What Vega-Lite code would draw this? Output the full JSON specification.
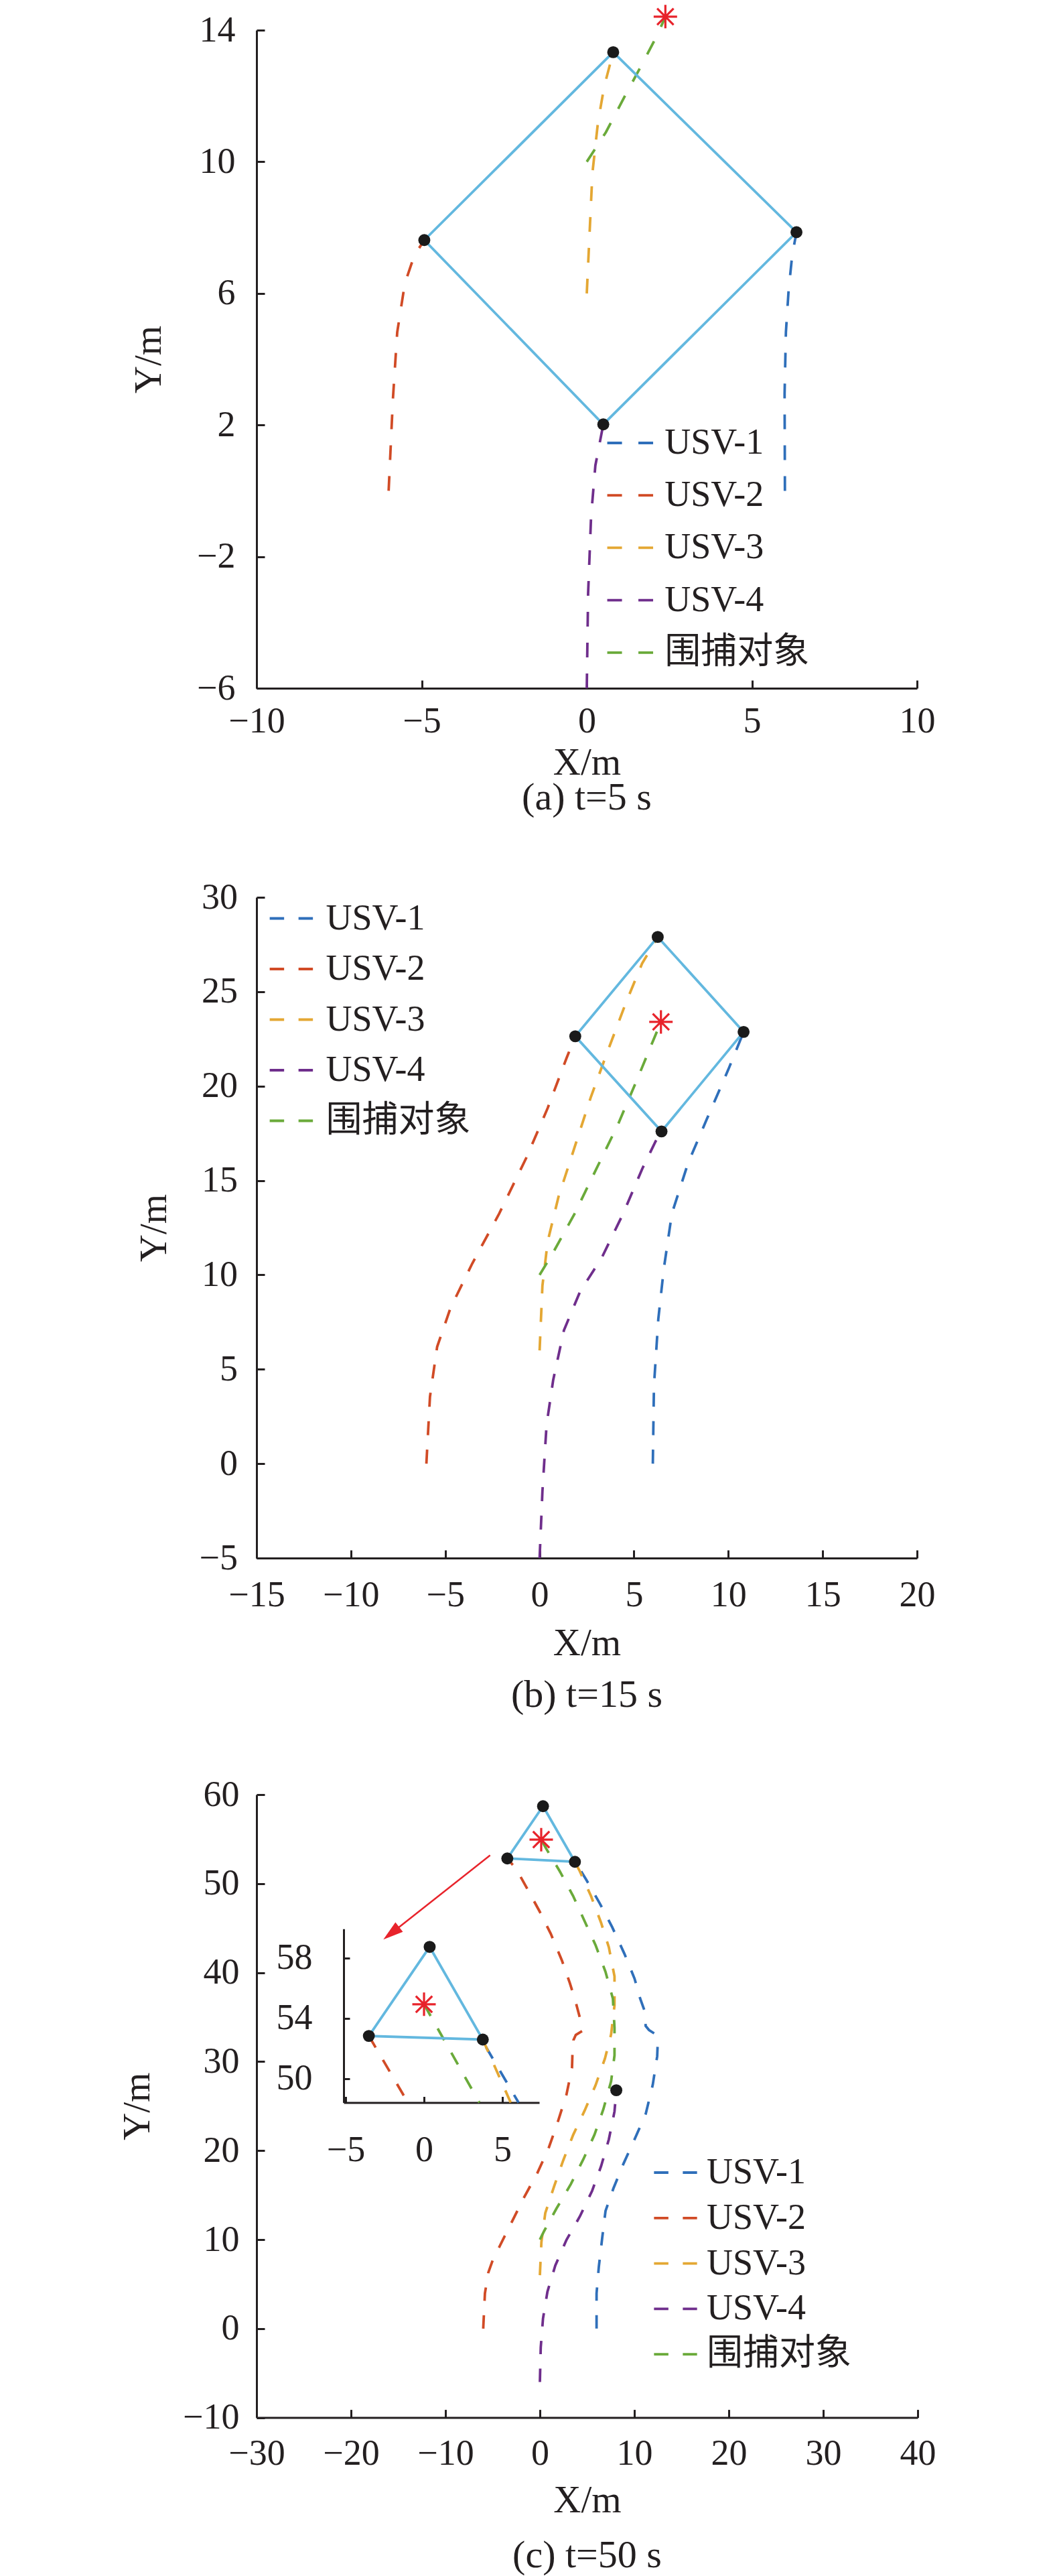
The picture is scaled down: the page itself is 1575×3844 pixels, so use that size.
{
"$schema":"https://vega.github.io/schema/vega-lite/v6.json",
"padding":{"left":176,"top":0,"right":10,"bottom":0},
"background":"#ffffff",
"spacing":91,
"config":{
 "view":{"stroke":null},
 "font":"Liberation Serif",
 "axis":{"domainColor":"#231f20","domainWidth":3,"tickColor":"#231f20","tickWidth":3,"tickSize":-12,"grid":false,"labelFont":"Liberation Serif","labelFontSize":54,"labelColor":"#231f20","titleFont":"Liberation Serif","titleFontSize":57,"titleFontWeight":"normal","titleColor":"#231f20","labelFlush":false,"labelOverlap":false},
 "legend":{"padding":0,"offset":0},
 "title":{"font":"Liberation Serif","fontSize":58,"fontWeight":"normal","color":"#231f20"}
},
"datasets":{
 "traj":[
  {"p":"a","s":"USV-1","i":0,"x":6,"y":0},{"p":"a","s":"USV-1","i":1,"x":5.99,"y":2.95},{"p":"a","s":"USV-1","i":2,"x":6.03,"y":4.82},{"p":"a","s":"USV-1","i":3,"x":6.11,"y":6.07},{"p":"a","s":"USV-1","i":4,"x":6.22,"y":7.16},{"p":"a","s":"USV-1","i":5,"x":6.35,"y":7.86},
  {"p":"a","s":"USV-2","i":0,"x":-6,"y":0},{"p":"a","s":"USV-2","i":1,"x":-5.87,"y":2.8},{"p":"a","s":"USV-2","i":2,"x":-5.74,"y":4.82},{"p":"a","s":"USV-2","i":3,"x":-5.51,"y":6.3},{"p":"a","s":"USV-2","i":4,"x":-5.22,"y":7.16},{"p":"a","s":"USV-2","i":5,"x":-4.92,"y":7.62},
  {"p":"a","s":"USV-3","i":0,"x":0,"y":6},{"p":"a","s":"USV-3","i":1,"x":0.09,"y":7.94},{"p":"a","s":"USV-3","i":2,"x":0.17,"y":9.65},{"p":"a","s":"USV-3","i":3,"x":0.34,"y":11.21},{"p":"a","s":"USV-3","i":4,"x":0.53,"y":12.3},{"p":"a","s":"USV-3","i":5,"x":0.8,"y":13.33},
  {"p":"a","s":"USV-4","i":0,"x":0,"y":-6},{"p":"a","s":"USV-4","i":1,"x":0.04,"y":-3.13},{"p":"a","s":"USV-4","i":2,"x":0.13,"y":-0.79},{"p":"a","s":"USV-4","i":3,"x":0.26,"y":0.77},{"p":"a","s":"USV-4","i":4,"x":0.5,"y":2.02},
  {"p":"a","s":"围捕对象","i":0,"x":0,"y":10},{"p":"a","s":"围捕对象","i":1,"x":0.58,"y":10.9},{"p":"a","s":"围捕对象","i":2,"x":1.15,"y":11.99},{"p":"a","s":"围捕对象","i":3,"x":1.65,"y":12.92},{"p":"a","s":"围捕对象","i":4,"x":2.14,"y":13.86},{"p":"a","s":"围捕对象","i":5,"x":2.38,"y":14.41},

  {"p":"b","s":"USV-1","i":0,"x":6,"y":0},{"p":"b","s":"USV-1","i":1,"x":6.06,"y":4.13},{"p":"b","s":"USV-1","i":2,"x":6.29,"y":7.66},{"p":"b","s":"USV-1","i":3,"x":6.58,"y":10.31},{"p":"b","s":"USV-1","i":4,"x":7.01,"y":13.25},{"p":"b","s":"USV-1","i":5,"x":7.86,"y":15.9},{"p":"b","s":"USV-1","i":6,"x":8.86,"y":18.25},{"p":"b","s":"USV-1","i":7,"x":10.01,"y":20.9},{"p":"b","s":"USV-1","i":8,"x":10.81,"y":22.87},
  {"p":"b","s":"USV-2","i":0,"x":-6,"y":0},{"p":"b","s":"USV-2","i":1,"x":-5.81,"y":3.54},{"p":"b","s":"USV-2","i":2,"x":-5.43,"y":6.19},{"p":"b","s":"USV-2","i":3,"x":-4.72,"y":8.25},{"p":"b","s":"USV-2","i":4,"x":-3.57,"y":10.6},{"p":"b","s":"USV-2","i":5,"x":-2.14,"y":13.25},{"p":"b","s":"USV-2","i":6,"x":-0.71,"y":16.19},{"p":"b","s":"USV-2","i":7,"x":0.43,"y":18.84},{"p":"b","s":"USV-2","i":8,"x":1.43,"y":21.49},{"p":"b","s":"USV-2","i":9,"x":1.89,"y":22.64},
  {"p":"b","s":"USV-3","i":0,"x":0,"y":6},{"p":"b","s":"USV-3","i":1,"x":0.15,"y":9.43},{"p":"b","s":"USV-3","i":2,"x":0.43,"y":11.78},{"p":"b","s":"USV-3","i":3,"x":1.0,"y":14.13},{"p":"b","s":"USV-3","i":4,"x":1.86,"y":16.78},{"p":"b","s":"USV-3","i":5,"x":2.72,"y":19.43},{"p":"b","s":"USV-3","i":6,"x":3.58,"y":21.78},{"p":"b","s":"USV-3","i":7,"x":4.58,"y":24.43},{"p":"b","s":"USV-3","i":8,"x":5.43,"y":26.49},{"p":"b","s":"USV-3","i":9,"x":6.26,"y":27.9},
  {"p":"b","s":"USV-4","i":0,"x":0,"y":-5},{"p":"b","s":"USV-4","i":1,"x":0.15,"y":-1.46},{"p":"b","s":"USV-4","i":2,"x":0.37,"y":2.07},{"p":"b","s":"USV-4","i":3,"x":0.72,"y":4.43},{"p":"b","s":"USV-4","i":4,"x":1.29,"y":7.07},{"p":"b","s":"USV-4","i":5,"x":2.15,"y":9.13},{"p":"b","s":"USV-4","i":6,"x":3.29,"y":10.9},{"p":"b","s":"USV-4","i":7,"x":4.43,"y":13.25},{"p":"b","s":"USV-4","i":8,"x":5.43,"y":15.6},{"p":"b","s":"USV-4","i":9,"x":6.15,"y":17.08},{"p":"b","s":"USV-4","i":10,"x":6.46,"y":17.6},
  {"p":"b","s":"围捕对象","i":0,"x":0,"y":10},{"p":"b","s":"围捕对象","i":1,"x":0.72,"y":11.19},{"p":"b","s":"围捕对象","i":2,"x":1.86,"y":13.25},{"p":"b","s":"围捕对象","i":3,"x":3.0,"y":15.6},{"p":"b","s":"围捕对象","i":4,"x":4.15,"y":17.96},{"p":"b","s":"围捕对象","i":5,"x":5.15,"y":20.31},{"p":"b","s":"围捕对象","i":6,"x":6.0,"y":22.37},{"p":"b","s":"围捕对象","i":7,"x":6.43,"y":23.4},

  {"p":"c","s":"USV-1","i":0,"x":6,"y":0},{"p":"c","s":"USV-1","i":1,"x":6.0,"y":3.96},{"p":"c","s":"USV-1","i":2,"x":6.24,"y":6.95},{"p":"c","s":"USV-1","i":3,"x":6.6,"y":10.21},{"p":"c","s":"USV-1","i":4,"x":6.95,"y":13.22},{"p":"c","s":"USV-1","i":5,"x":7.78,"y":15.74},{"p":"c","s":"USV-1","i":6,"x":8.84,"y":18.5},{"p":"c","s":"USV-1","i":7,"x":10.02,"y":21.26},{"p":"c","s":"USV-1","i":8,"x":11.21,"y":24.14},{"p":"c","s":"USV-1","i":9,"x":11.95,"y":27.4},{"p":"c","s":"USV-1","i":10,"x":12.42,"y":30.6},{"p":"c","s":"USV-1","i":11,"x":12.48,"y":32.2},{"p":"c","s":"USV-1","i":12,"x":12.2,"y":33.1},{"p":"c","s":"USV-1","i":13,"x":11.55,"y":33.55},{"p":"c","s":"USV-1","i":14,"x":11.2,"y":34.0},{"p":"c","s":"USV-1","i":15,"x":11.09,"y":35.69},{"p":"c","s":"USV-1","i":16,"x":10.62,"y":37.07},{"p":"c","s":"USV-1","i":17,"x":10.02,"y":39.33},{"p":"c","s":"USV-1","i":18,"x":8.96,"y":42.09},{"p":"c","s":"USV-1","i":19,"x":7.66,"y":45.1},{"p":"c","s":"USV-1","i":20,"x":6.36,"y":47.74},{"p":"c","s":"USV-1","i":21,"x":4.94,"y":50.38},{"p":"c","s":"USV-1","i":22,"x":3.9,"y":52.2},
  {"p":"c","s":"USV-2","i":0,"x":-6,"y":0},{"p":"c","s":"USV-2","i":1,"x":-5.82,"y":3.96},{"p":"c","s":"USV-2","i":2,"x":-5.46,"y":6.3},{"p":"c","s":"USV-2","i":3,"x":-4.99,"y":7.7},{"p":"c","s":"USV-2","i":4,"x":-4.28,"y":9.21},{"p":"c","s":"USV-2","i":5,"x":-2.98,"y":11.97},{"p":"c","s":"USV-2","i":6,"x":-1.68,"y":14.73},{"p":"c","s":"USV-2","i":7,"x":-0.26,"y":17.5},{"p":"c","s":"USV-2","i":8,"x":0.92,"y":20.26},{"p":"c","s":"USV-2","i":9,"x":1.87,"y":23.14},{"p":"c","s":"USV-2","i":10,"x":2.81,"y":26.28},{"p":"c","s":"USV-2","i":11,"x":3.4,"y":29.3},{"p":"c","s":"USV-2","i":12,"x":3.45,"y":31.0},{"p":"c","s":"USV-2","i":13,"x":3.55,"y":32.4},{"p":"c","s":"USV-2","i":14,"x":3.8,"y":33.0},{"p":"c","s":"USV-2","i":15,"x":4.47,"y":33.43},{"p":"c","s":"USV-2","i":16,"x":4.23,"y":34.94},{"p":"c","s":"USV-2","i":17,"x":3.76,"y":36.82},{"p":"c","s":"USV-2","i":18,"x":3.17,"y":38.83},{"p":"c","s":"USV-2","i":19,"x":2.34,"y":41.34},{"p":"c","s":"USV-2","i":20,"x":1.16,"y":44.35},{"p":"c","s":"USV-2","i":21,"x":-0.02,"y":46.86},{"p":"c","s":"USV-2","i":22,"x":-1.44,"y":49.62},{"p":"c","s":"USV-2","i":23,"x":-2.5,"y":51.63},{"p":"c","s":"USV-2","i":24,"x":-3.45,"y":52.83},
  {"p":"c","s":"USV-3","i":0,"x":0,"y":6},{"p":"c","s":"USV-3","i":1,"x":0.16,"y":9.72},{"p":"c","s":"USV-3","i":2,"x":0.57,"y":12.98},{"p":"c","s":"USV-3","i":3,"x":1.51,"y":15.99},{"p":"c","s":"USV-3","i":4,"x":2.46,"y":18.87},{"p":"c","s":"USV-3","i":5,"x":3.52,"y":21.76},{"p":"c","s":"USV-3","i":6,"x":4.75,"y":24.52},{"p":"c","s":"USV-3","i":7,"x":5.89,"y":27.33},{"p":"c","s":"USV-3","i":8,"x":6.89,"y":30.35},{"p":"c","s":"USV-3","i":9,"x":7.54,"y":33.06},{"p":"c","s":"USV-3","i":10,"x":7.9,"y":36.32},{"p":"c","s":"USV-3","i":11,"x":7.9,"y":39.58},{"p":"c","s":"USV-3","i":12,"x":7.3,"y":42.85},{"p":"c","s":"USV-3","i":13,"x":6.48,"y":45.6},{"p":"c","s":"USV-3","i":14,"x":5.41,"y":48.61},{"p":"c","s":"USV-3","i":15,"x":4.23,"y":51.38},{"p":"c","s":"USV-3","i":16,"x":3.71,"y":52.45},
  {"p":"c","s":"USV-4","i":0,"x":0,"y":-6},{"p":"c","s":"USV-4","i":1,"x":0.09,"y":-2.12},{"p":"c","s":"USV-4","i":2,"x":0.33,"y":1.14},{"p":"c","s":"USV-4","i":3,"x":0.8,"y":4.15},{"p":"c","s":"USV-4","i":4,"x":1.63,"y":7.08},{"p":"c","s":"USV-4","i":5,"x":2.81,"y":9.96},{"p":"c","s":"USV-4","i":6,"x":4.23,"y":12.6},{"p":"c","s":"USV-4","i":7,"x":5.53,"y":15.48},{"p":"c","s":"USV-4","i":8,"x":6.48,"y":18.25},{"p":"c","s":"USV-4","i":9,"x":7.3,"y":21.26},{"p":"c","s":"USV-4","i":10,"x":7.9,"y":24.4},{"p":"c","s":"USV-4","i":11,"x":8.09,"y":26.78},
  {"p":"c","s":"围捕对象","i":0,"x":0,"y":10},{"p":"c","s":"围捕对象","i":1,"x":0.45,"y":10.96},{"p":"c","s":"围捕对象","i":2,"x":1.75,"y":13.48},{"p":"c","s":"围捕对象","i":3,"x":3.28,"y":16.24},{"p":"c","s":"围捕对象","i":4,"x":4.59,"y":19.0},{"p":"c","s":"围捕对象","i":5,"x":5.77,"y":21.76},{"p":"c","s":"围捕对象","i":6,"x":6.72,"y":24.65},{"p":"c","s":"围捕对象","i":7,"x":7.54,"y":27.79},{"p":"c","s":"围捕对象","i":8,"x":7.9,"y":30.7},{"p":"c","s":"围捕对象","i":9,"x":7.9,"y":33.81},{"p":"c","s":"围捕对象","i":10,"x":7.73,"y":37.07},{"p":"c","s":"围捕对象","i":11,"x":6.95,"y":40.08},{"p":"c","s":"围捕对象","i":12,"x":5.89,"y":43.1},{"p":"c","s":"围捕对象","i":13,"x":4.7,"y":45.86},{"p":"c","s":"围捕对象","i":14,"x":3.52,"y":48.61},{"p":"c","s":"围捕对象","i":15,"x":2.11,"y":51.38},{"p":"c","s":"围捕对象","i":16,"x":0.69,"y":53.89},{"p":"c","s":"围捕对象","i":17,"x":0.14,"y":54.94},

  {"p":"ci","s":"USV-1","i":0,"x":3.95,"y":52.1},{"p":"ci","s":"USV-1","i":1,"x":6.03,"y":48.41},
  {"p":"ci","s":"USV-2","i":0,"x":-3.52,"y":52.83},{"p":"ci","s":"USV-2","i":1,"x":-1.03,"y":48.41},
  {"p":"ci","s":"USV-3","i":0,"x":3.75,"y":52.59},{"p":"ci","s":"USV-3","i":1,"x":5.53,"y":48.41},
  {"p":"ci","s":"围捕对象","i":0,"x":0,"y":54.93},{"p":"ci","s":"围捕对象","i":1,"x":3.53,"y":48.41}
 ],
 "form":[
  {"p":"a","i":0,"x":0.8,"y":13.33},{"p":"a","i":1,"x":6.35,"y":7.86},{"p":"a","i":2,"x":0.5,"y":2.02},{"p":"a","i":3,"x":-4.92,"y":7.62},{"p":"a","i":4,"x":0.8,"y":13.33},
  {"p":"b","i":0,"x":6.26,"y":27.9},{"p":"b","i":1,"x":10.81,"y":22.87},{"p":"b","i":2,"x":6.46,"y":17.6},{"p":"b","i":3,"x":1.89,"y":22.64},{"p":"b","i":4,"x":6.26,"y":27.9},
  {"p":"c","i":0,"x":0.33,"y":58.7},{"p":"c","i":1,"x":3.71,"y":52.45},{"p":"c","i":2,"x":-3.45,"y":52.83},{"p":"c","i":3,"x":0.33,"y":58.7},
  {"p":"ci","i":0,"x":0.36,"y":58.74},{"p":"ci","i":1,"x":3.75,"y":52.59},{"p":"ci","i":2,"x":-3.52,"y":52.83},{"p":"ci","i":3,"x":0.36,"y":58.74}
 ],
 "dots":[
  {"p":"a","x":0.8,"y":13.33},{"p":"a","x":6.35,"y":7.86},{"p":"a","x":0.5,"y":2.02},{"p":"a","x":-4.92,"y":7.62},
  {"p":"b","x":6.26,"y":27.9},{"p":"b","x":10.81,"y":22.87},{"p":"b","x":6.46,"y":17.6},{"p":"b","x":1.89,"y":22.64},
  {"p":"c","x":0.33,"y":58.7},{"p":"c","x":3.71,"y":52.45},{"p":"c","x":-3.45,"y":52.83},{"p":"c","x":8.09,"y":26.78},
  {"p":"ci","x":0.36,"y":58.74},{"p":"ci","x":3.75,"y":52.59},{"p":"ci","x":-3.52,"y":52.83}
 ],
 "star":[
  {"p":"a","x":2.38,"y":14.41},{"p":"b","x":6.43,"y":23.4},{"p":"c","x":0.14,"y":54.94},{"p":"ci","x":0,"y":54.93}
 ],
 "arrow":[{"i":0,"x":-5.27,"y":53.18},{"i":1,"x":-15.74,"y":44.42}],
 "head":[{"x":-15.74,"y":44.42}]
},
"resolve":{"scale":{"x":"independent","y":"independent","color":"independent"},"legend":{"color":"independent"}},
"vconcat":[
 {
  "width":986,"height":982,
  "title":{"text":"(a) t=5 s","orient":"bottom","frame":"group","anchor":"middle","offset":24.5,"baseline":"middle"},
  "encoding":{
   "x":{"field":"x","type":"quantitative","scale":{"domain":[-10,10],"nice":false,"zero":false},"axis":{"values":[-10,-5,0,5,10],"title":"X/m","titleY":111.9,"titleBaseline":"middle","labelPadding":34.5}},
   "y":{"field":"y","type":"quantitative","scale":{"domain":[-6,14],"nice":false,"zero":false},"axis":{"values":[-6,-2,2,6,10,14],"title":"Y/m","titleX":-160.5,"titleBaseline":"middle","labelPadding":44}}
  },
  "layer":[
   {"data":{"name":"traj"},"transform":[{"filter":"datum.p==='a'"}],
    "mark":{"type":"line","strokeDash":[22,24],"strokeWidth":3.8,"clip":false},
    "encoding":{"color":{"field":"s","type":"nominal","scale":{"domain":["USV-1","USV-2","USV-3","USV-4","围捕对象"],"range":["#2f6fba","#d14b26","#e4a733","#6f2e8c","#6aaa3a"]},
      "legend":{"orient":"none","legendX":521.3,"legendY":579.5,"title":null,"symbolType":"stroke","symbolSize":4692,"symbolStrokeWidth":3.8,"symbolDash":[22,24.5],"labelOffset":15,"rowPadding":14.2,"labelFontSize":54,"labelFont":"Liberation Serif, Noto Sans CJK SC","labelColor":"#231f20","labelLimit":0}},
     "order":{"field":"i","type":"quantitative"}}},
   {"data":{"name":"form"},"transform":[{"filter":"datum.p==='a'"}],"mark":{"type":"line","color":"#63b8df","strokeWidth":3.8,"clip":false},"encoding":{"order":{"field":"i","type":"quantitative"}}},
   {"data":{"name":"dots"},"transform":[{"filter":"datum.p==='a'"}],"mark":{"type":"point","filled":true,"color":"#1a1a1a","opacity":1,"size":320,"shape":"circle"}},
   {"data":{"name":"star"},"transform":[{"filter":"datum.p==='a'"}],"mark":{"type":"point","filled":false,"color":"#e8232b","opacity":1,"strokeWidth":3.2,"size":1225,"shape":"M-1,0L1,0M0,-1L0,1M-0.7,-0.7L0.7,0.7M-0.7,0.7L0.7,-0.7"}}
  ]
 },
 {
  "width":986,"height":986,
  "title":{"text":"(b) t=15 s","orient":"bottom","frame":"group","anchor":"middle","offset":49.5,"baseline":"middle"},
  "encoding":{
   "x":{"field":"x","type":"quantitative","scale":{"domain":[-15,20],"nice":false,"zero":false},"axis":{"values":[-15,-10,-5,0,5,10,15,20],"title":"X/m","titleY":127.9,"titleBaseline":"middle","labelPadding":40.5}},
   "y":{"field":"y","type":"quantitative","scale":{"domain":[-5,30],"nice":false,"zero":false},"axis":{"values":[-5,0,5,10,15,20,25,30],"title":"Y/m","titleX":-153,"titleBaseline":"middle","labelPadding":40.5}}
  },
  "layer":[
   {"data":{"name":"traj"},"transform":[{"filter":"datum.p==='b'"}],
    "mark":{"type":"line","strokeDash":[21,21.5],"strokeWidth":3.8,"clip":false},
    "encoding":{"color":{"field":"s","type":"nominal","scale":{"domain":["USV-1","USV-2","USV-3","USV-4","围捕对象"],"range":["#2f6fba","#d14b26","#e4a733","#6f2e8c","#6aaa3a"]},
      "legend":{"orient":"none","legendX":17.4,"legendY":-3,"title":null,"symbolType":"stroke","symbolSize":4160,"symbolStrokeWidth":3.8,"symbolDash":[21.5,21.5],"labelOffset":17,"rowPadding":13.5,"labelFontSize":54,"labelFont":"Liberation Serif, Noto Sans CJK SC","labelColor":"#231f20","labelLimit":0}},
     "order":{"field":"i","type":"quantitative"}}},
   {"data":{"name":"form"},"transform":[{"filter":"datum.p==='b'"}],"mark":{"type":"line","color":"#63b8df","strokeWidth":3.8,"clip":false},"encoding":{"order":{"field":"i","type":"quantitative"}}},
   {"data":{"name":"dots"},"transform":[{"filter":"datum.p==='b'"}],"mark":{"type":"point","filled":true,"color":"#1a1a1a","opacity":1,"size":320,"shape":"circle"}},
   {"data":{"name":"star"},"transform":[{"filter":"datum.p==='b'"}],"mark":{"type":"point","filled":false,"color":"#e8232b","opacity":1,"strokeWidth":3.2,"size":1225,"shape":"M-1,0L1,0M0,-1L0,1M-0.7,-0.7L0.7,0.7M-0.7,0.7L0.7,-0.7"}}
  ]
 },
 {
  "width":987,"height":929.6,
  "title":{"text":"(c) t=50 s","orient":"bottom","frame":"group","anchor":"middle","offset":54.1,"baseline":"middle"},
  "layer":[
   {
    "encoding":{
     "x":{"field":"x","type":"quantitative","scale":{"domain":[-30,40],"nice":false,"zero":false},"axis":{"values":[-30,-20,-10,0,10,20,30,40],"title":"X/m","titleY":124,"titleBaseline":"middle","labelPadding":38.5,"orient":"bottom"}},
     "y":{"field":"y","type":"quantitative","scale":{"domain":[-10,60],"nice":false,"zero":false},"axis":{"values":[-10,0,10,20,30,40,50,60],"title":"Y/m","titleX":-178,"titleBaseline":"middle","labelPadding":38,"orient":"left"}}
    },
    "layer":[
     {"data":{"name":"traj"},"transform":[{"filter":"datum.p==='c'"}],
      "mark":{"type":"line","strokeDash":[20,21.5],"strokeWidth":3.8,"clip":false},
      "encoding":{"color":{"field":"s","type":"nominal","scale":{"domain":["USV-1","USV-2","USV-3","USV-4","围捕对象"],"range":["#2f6fba","#d14b26","#e4a733","#6f2e8c","#6aaa3a"]},
        "legend":{"orient":"none","legendX":591,"legendY":529.5,"title":null,"symbolType":"stroke","symbolSize":4134,"symbolStrokeWidth":3.8,"symbolDash":[21.5,21.5],"labelOffset":12,"rowPadding":5.8,"labelFontSize":54,"labelFont":"Liberation Serif, Noto Sans CJK SC","labelColor":"#231f20","labelLimit":0}},
       "order":{"field":"i","type":"quantitative"}}},
     {"data":{"name":"form"},"transform":[{"filter":"datum.p==='c'"}],"mark":{"type":"line","color":"#63b8df","strokeWidth":3.8,"clip":false},"encoding":{"order":{"field":"i","type":"quantitative"}}},
     {"data":{"name":"arrow"},"mark":{"type":"line","color":"#e8232b","strokeWidth":2.5,"clip":false},"encoding":{"order":{"field":"i","type":"quantitative"}}},
     {"data":{"name":"head"},"mark":{"type":"point","filled":true,"color":"#e8232b","opacity":1,"size":900,"angle":232,"shape":"M0,-1L-0.6,1L0.6,1Z"}},
     {"data":{"name":"dots"},"transform":[{"filter":"datum.p==='c'"}],"mark":{"type":"point","filled":true,"color":"#1a1a1a","opacity":1,"size":320,"shape":"circle"}},
     {"data":{"name":"star"},"transform":[{"filter":"datum.p==='c'"}],"mark":{"type":"point","filled":false,"color":"#e8232b","opacity":1,"strokeWidth":3.2,"size":1225,"shape":"M-1,0L1,0M0,-1L0,1M-0.7,-0.7L0.7,0.7M-0.7,0.7L0.7,-0.7"}}
    ]
   },
   {
    "encoding":{
     "x":{"field":"x","type":"quantitative","scale":{"domain":[-5.13,7.35],"range":[130,422],"nice":false,"zero":false},"axis":{"values":[-5,0,5],"title":null,"orient":"bottom","offset":-470.1,"tickSize":-9,"labelPadding":52.8}},
     "y":{"field":"y","type":"quantitative","scale":{"domain":[48.41,59.94],"range":[459.5,200.2],"nice":false,"zero":false},"axis":{"values":[50,54,58],"title":null,"orient":"left","offset":-130,"tickSize":-9,"labelPadding":56}}
    },
    "layer":[
     {"data":{"name":"traj"},"transform":[{"filter":"datum.p==='ci'"}],
      "mark":{"type":"line","strokeDash":[20,21.5],"strokeWidth":3.8,"clip":false},
      "encoding":{"color":{"field":"s","type":"nominal","scale":{"domain":["USV-1","USV-2","USV-3","USV-4","围捕对象"],"range":["#2f6fba","#d14b26","#e4a733","#6f2e8c","#6aaa3a"]},
        "legend":{"orient":"none","legendX":591,"legendY":529.5,"title":null,"symbolType":"stroke","symbolSize":4134,"symbolStrokeWidth":3.8,"symbolDash":[21.5,21.5],"labelOffset":12,"rowPadding":5.8,"labelFontSize":54,"labelFont":"Liberation Serif, Noto Sans CJK SC","labelColor":"#231f20","labelLimit":0}},
       "order":{"field":"i","type":"quantitative"}}},
     {"data":{"name":"form"},"transform":[{"filter":"datum.p==='ci'"}],"mark":{"type":"line","color":"#63b8df","strokeWidth":3.8,"clip":false},"encoding":{"order":{"field":"i","type":"quantitative"}}},
     {"data":{"name":"dots"},"transform":[{"filter":"datum.p==='ci'"}],"mark":{"type":"point","filled":true,"color":"#1a1a1a","opacity":1,"size":320,"shape":"circle"}},
     {"data":{"name":"star"},"transform":[{"filter":"datum.p==='ci'"}],"mark":{"type":"point","filled":false,"color":"#e8232b","opacity":1,"strokeWidth":3.2,"size":1225,"shape":"M-1,0L1,0M0,-1L0,1M-0.7,-0.7L0.7,0.7M-0.7,0.7L0.7,-0.7"}}
    ]
   }
  ],
  "resolve":{"scale":{"x":"independent","y":"independent"},"axis":{"x":"independent","y":"independent"}}
 }
]
}
